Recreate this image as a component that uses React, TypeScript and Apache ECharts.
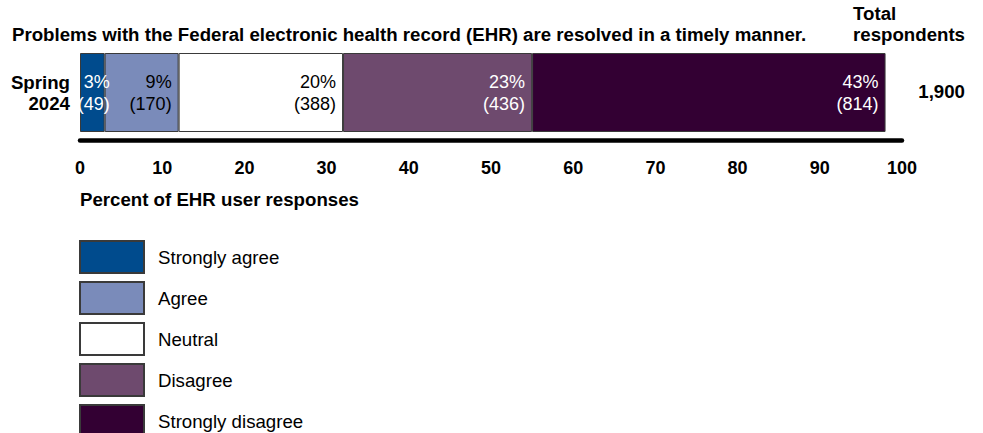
import React, { useEffect, useRef } from "react";
import * as echarts from "echarts";

const categories = ["Spring\n2024"];
const seriesNames = ["Strongly agree", "Agree", "Neutral", "Disagree", "Strongly disagree"];
const percents = [3, 9, 20, 23, 43];
const counts = [49, 170, 388, 436, 814];
const totalRespondents = ["1,900"];
const colors = ["#004B8D", "#7A8BBA", "#FFFFFF", "#6E4A6E", "#330033"];
const labelColors = ["#FFFFFF", "#000000", "#000000", "#FFFFFF", "#FFFFFF"];
const titleText = "Problems with the Federal electronic health record (EHR) are resolved in a timely manner.";
const axisTitle = "Percent of EHR user responses";

const FONT = '"Liberation Sans", Arial, sans-serif';

export default function App() {
  const ref = useRef<HTMLDivElement>(null);
  useEffect(() => {
    if (!ref.current) return;
    const chart = echarts.init(ref.current, undefined, { renderer: "svg" });
    const series = seriesNames.map((name, i) => ({
      name,
      type: "bar",
      stack: "total",
      barWidth: 79,
      itemStyle: { color: colors[i], borderColor: "#3a3a3a", borderWidth: 1 },
      label: {
        show: true,
        position: "insideRight",
        distance: 7,
        offset: i === 0 ? [12, 0] : [0, 0],
        align: "right",
        formatter: () => `${percents[i]}%\n(${counts[i]})`,
        color: labelColors[i],
        fontFamily: FONT,
        fontSize: 18,
        lineHeight: 22,
        textBorderWidth: 0,
      },
      data: [percents[i]],
    }));
    const legends = seriesNames.map((name, i) => ({
      data: [name],
      orient: "vertical",
      left: 79,
      top: 240 + 41 * i,
      padding: 0,
      itemWidth: 64,
      itemHeight: 32,
      itemGap: 0,
      icon: "rect",
      selectedMode: false,
      textStyle: {
        color: "#000",
        fontSize: 18.67,
        fontFamily: FONT,
        padding: [0, 0, 6, 9],
      },
    }));
    chart.setOption({
      animation: false,
      textStyle: { fontFamily: FONT },
      grid: { left: 80, right: 81, top: 45, bottom: 293, containLabel: false },
      xAxis: {
        type: "value",
        min: 0,
        max: 100,
        interval: 10,
        axisLine: { show: true, lineStyle: { color: "#000", width: 4.5 } },
        axisTick: { show: false },
        splitLine: { show: false },
        axisLabel: {
          color: "#000",
          fontWeight: "bold",
          fontSize: 18,
          fontFamily: FONT,
          margin: 19,
        },
      },
      yAxis: {
        type: "category",
        data: categories,
        axisLine: { show: false },
        axisTick: { show: false },
        axisLabel: {
          color: "#000",
          fontWeight: "bold",
          fontSize: 18.67,
          fontFamily: FONT,
          lineHeight: 21,
          align: "right",
          margin: 10,
        },
      },
      legend: legends,
      graphic: [
        {
          type: "text",
          left: 12,
          top: 25,
          style: { text: titleText, fill: "#000", font: `bold 18.67px ${FONT}` },
        },
        {
          type: "text",
          right: 18,
          top: 3,
          style: {
            text: "Total\nrespondents",
            fill: "#000",
            font: `bold 18.67px ${FONT}`,
            align: "right",
            lineHeight: 21,
          },
        },
        {
          type: "text",
          right: 18,
          top: 82,
          style: { text: totalRespondents[0], fill: "#000", font: `bold 18.67px ${FONT}`, align: "right" },
        },
        {
          type: "text",
          left: 80,
          top: 190,
          style: { text: axisTitle, fill: "#000", font: `bold 18.67px ${FONT}` },
        },
      ],
      series,
    });
    return () => chart.dispose();
  }, []);
  return <div ref={ref} style={{ width: 983, height: 433, position: "absolute", left: 0, top: 0 }} />;
}
